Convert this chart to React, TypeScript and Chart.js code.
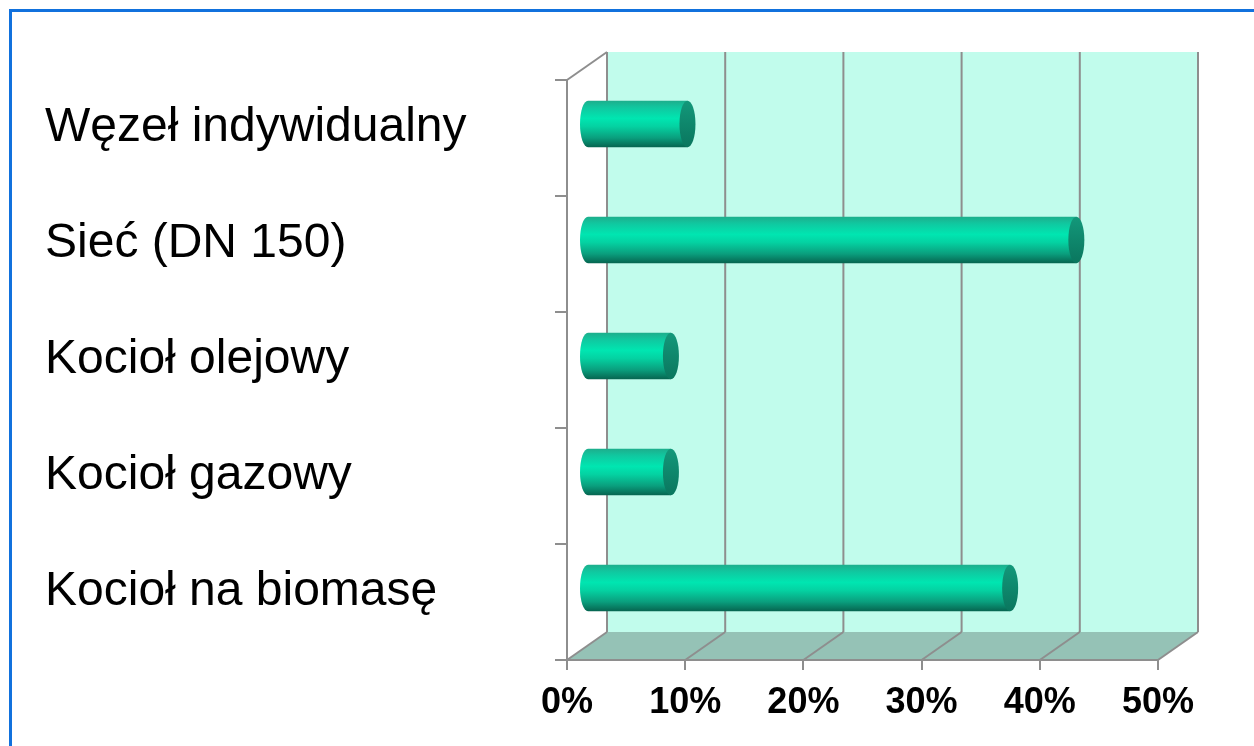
import React, { useEffect, useRef } from 'react';
import { Chart, registerables } from 'chart.js';

Chart.register(...registerables);

const categories = ['Węzeł indywidualny', 'Sieć (DN 150)', 'Kocioł olejowy', 'Kocioł gazowy', 'Kocioł na biomasę'];
const shares = [8.5, 41.4, 7.1, 7.1, 35.8];
const xMin = 0;
const xMax = 50;
const xStep = 10;

const DX = 40;
const DY = -28;
const FONT = '"Liberation Sans", Arial, Helvetica, sans-serif';

const scene3d = {
  id: 'scene3d',
  beforeDraw(chart: any) {
    const { ctx, chartArea } = chart;
    const { left, right, top, bottom } = chartArea;
    const xs = chart.scales.x;
    ctx.save();
    // floor
    ctx.fillStyle = '#95C2B6';
    ctx.beginPath();
    ctx.moveTo(left, bottom);
    ctx.lineTo(right, bottom);
    ctx.lineTo(right + DX, bottom + DY);
    ctx.lineTo(left + DX, bottom + DY);
    ctx.closePath();
    ctx.fill();
    // back wall
    ctx.fillStyle = '#C1FCEC';
    ctx.fillRect(left + DX, top + DY, right - left, bottom - top);
    // grid lines
    ctx.strokeStyle = '#8E8E8E';
    ctx.lineWidth = 2;
    xs.ticks.forEach((t: any) => {
      const px = xs.getPixelForValue(t.value);
      ctx.beginPath();
      ctx.moveTo(px + DX, top + DY);
      ctx.lineTo(px + DX, bottom + DY);
      ctx.stroke();
      ctx.beginPath();
      ctx.moveTo(px, bottom);
      ctx.lineTo(px + DX, bottom + DY);
      ctx.stroke();
    });
    // left wall top edge
    ctx.beginPath();
    ctx.moveTo(left, top);
    ctx.lineTo(left + DX, top + DY);
    ctx.stroke();
    ctx.restore();
  },
  afterDatasetsDraw(chart: any) {
    const { ctx } = chart;
    const meta = chart.getDatasetMeta(0);
    ctx.save();
    meta.data.forEach((el: any) => {
      const { x, y, base, height } = el.getProps(['x', 'y', 'base', 'height'], true);
      const x0 = base + DX / 2;
      const x1 = x + DX / 2;
      const cy = y + DY / 2;
      const ry = height / 2;
      const rx = 8;
      const g = ctx.createLinearGradient(0, cy - ry, 0, cy + ry);
      g.addColorStop(0, '#1DAE8C');
      g.addColorStop(0.15, '#10C8A0');
      g.addColorStop(0.38, '#00E6B1');
      g.addColorStop(0.55, '#04D2A2');
      g.addColorStop(0.8, '#0A9E7D');
      g.addColorStop(1, '#066550');
      ctx.fillStyle = g;
      ctx.beginPath();
      ctx.moveTo(x1, cy - ry);
      ctx.lineTo(x0, cy - ry);
      ctx.ellipse(x0, cy, rx, ry, 0, -Math.PI / 2, Math.PI / 2, true);
      ctx.lineTo(x1, cy + ry);
      ctx.closePath();
      ctx.fill();
      const gc = ctx.createLinearGradient(0, cy - ry, 0, cy + ry);
      gc.addColorStop(0, '#13987A');
      gc.addColorStop(1, '#0A765E');
      ctx.fillStyle = gc;
      ctx.beginPath();
      ctx.ellipse(x1, cy, rx, ry, 0, 0, Math.PI * 2);
      ctx.fill();
    });
    ctx.restore();
  },
};

export default function App() {
  const ref = useRef<HTMLCanvasElement | null>(null);
  useEffect(() => {
    if (!ref.current) return;
    const chart = new Chart(ref.current, {
      type: 'bar',
      data: {
        labels: categories,
        datasets: [
          {
            data: shares,
            backgroundColor: 'rgba(0,0,0,0)',
            borderWidth: 0,
            barPercentage: 0.4,
            categoryPercentage: 1,
          },
        ],
      },
      options: {
        indexAxis: 'y',
        responsive: false,
        animation: false,
        devicePixelRatio: 1,
        layout: { padding: { left: 45, top: 80, right: 96, bottom: 0 } },
        plugins: { legend: { display: false }, tooltip: { enabled: false }, title: { display: false } },
        scales: {
          x: {
            min: xMin,
            max: xMax,
            ticks: {
              stepSize: xStep,
              color: '#000',
              padding: 11,
              font: { family: FONT, size: 36, weight: 'bold' },
              callback: (v: any) => v + '%',
            },
            grid: { drawOnChartArea: false, drawTicks: true, tickLength: 10, color: '#8E8E8E', lineWidth: 2 },
            border: { display: true, color: '#8E8E8E', width: 2 },
            afterFit: (s: any) => { s.height = 86; },
          },
          y: {
            ticks: {
              color: '#000',
              crossAlign: 'far',
              labelOffset: -10,
              font: { family: FONT, size: 48 },
            },
            grid: { drawOnChartArea: false, drawTicks: true, tickLength: 12, color: '#8E8E8E', lineWidth: 2, offset: true },
            border: { display: true, color: '#8E8E8E', width: 2 },
            afterFit: (s: any) => { s.width = 522; },
          },
        },
      },
      plugins: [scene3d],
    });
    return () => chart.destroy();
  }, []);
  return (
    <div style={{ position: 'fixed', left: 0, top: 0, width: 1254, height: 746, background: '#fff' }}>
      <canvas ref={ref} width={1254} height={746} style={{ display: 'block' }} />
      <div
        style={{
          position: 'absolute',
          left: 9,
          top: 9,
          width: 1245,
          height: 737,
          borderLeft: '3px solid #1171DD',
          borderTop: '3px solid #1171DD',
          boxSizing: 'border-box',
          pointerEvents: 'none',
        }}
      />
    </div>
  );
}
